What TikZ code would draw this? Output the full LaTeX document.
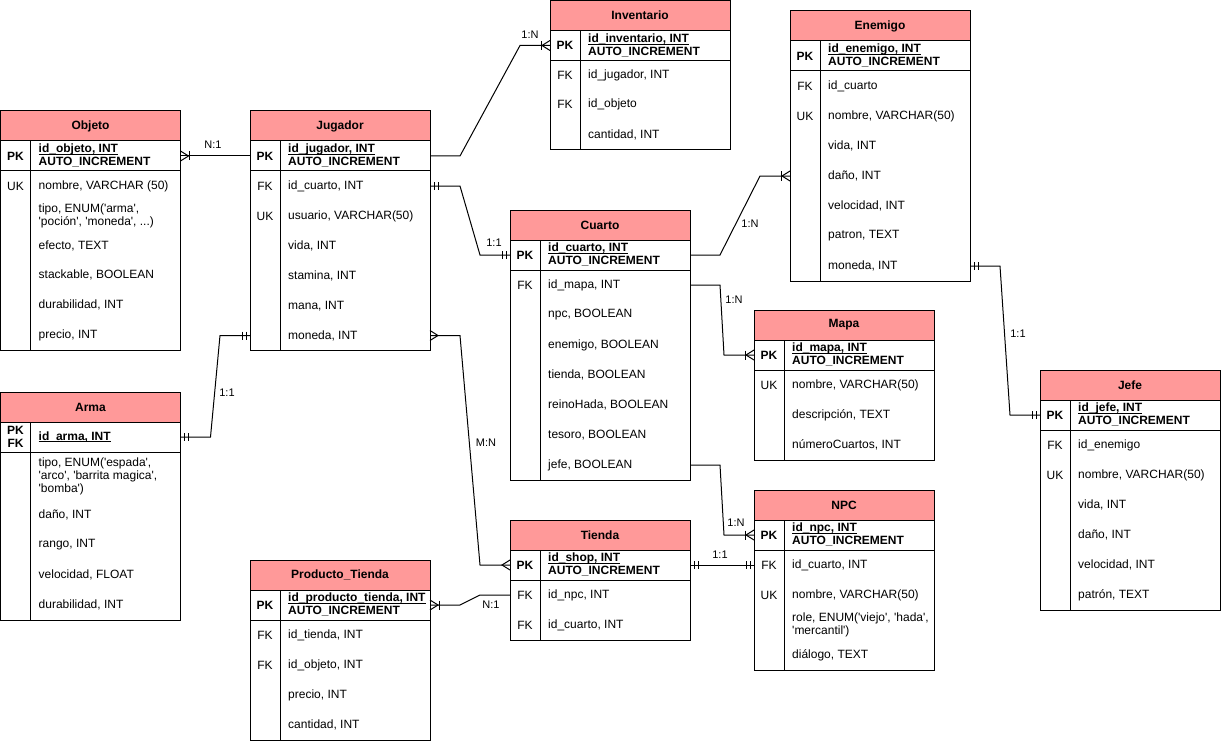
\documentclass[tikz,border=0pt]{standalone}
\usepackage{fontspec}
\setmainfont{Liberation Sans}
\usetikzlibrary{calc}
\definecolor{erpink}{HTML}{FF9999}
\newcommand\sq{\textquotesingle}
\newcommand\keyul[1]{\underline{\smash{#1}\vphantom{I}}}
\tikzset{
 tbl/.style={line width=1pt},
 titlebox/.style={draw=black, line width=1pt, fill=erpink, minimum width=180pt, minimum height=30pt, inner sep=0pt, outer sep=0pt, anchor=north west, font=\bfseries\fontsize{12}{13}\selectfont},
 pkbox/.style={draw=black, line width=1pt, minimum width=180pt, minimum height=30pt, inner sep=0pt, outer sep=0pt, anchor=north west},
 rowbox/.style={minimum width=180pt, inner sep=0pt, outer sep=0pt, anchor=north west},
 keytxt/.style={inner sep=0pt, align=center, font=\fontsize{12}{13}\selectfont},
 keybold/.style={inner sep=0pt, align=center, font=\bfseries\fontsize{12}{13}\selectfont},
 fldtxt/.style={inner sep=0pt, align=left, anchor=west, font=\fontsize{12}{13}\selectfont},
 fldbold/.style={inner sep=0pt, align=left, anchor=west, font=\bfseries\fontsize{12}{13}\selectfont},
 conn/.style={line width=1pt},
 lbl/.style={inner sep=0pt, font=\fontsize{11}{12}\selectfont},
}
% name, x, y, title
\newcommand\ertitle[4]{\node[titlebox] (#1) at (#2,#3) {#4};}
% name, x, y, key, field
\newcommand\erpk[5]{%
 \node[pkbox] (#1) at (#2,#3) {};
 \node[keybold] (#1-k) at ($(#1.west)+(15,0)$) {#4};
 \node[fldbold] (#1-f) at ($(#1.west)+(38,0)$) {#5};}
% name, x, y, h, key, field
\newcommand\errow[6]{%
 \node[rowbox, minimum height=#4pt] (#1) at (#2,#3) {};
 \node[keytxt] (#1-k) at ($(#1.west)+(15,0)$) {#5};
 \node[fldtxt] (#1-f) at ($(#1.west)+(38,0)$) {#6};}
% title node, pk node, last row node
\newcommand\erframe[3]{%
 \draw[tbl] (#1.north west) rectangle (#3.south east);
 \draw[tbl] ($(#2.north west)+(30,0)$) -- ($(#3.south west)+(30,0)$);}
% markers: anchor, direction (+1 = line leaves to the right, -1 = to the left)
\newcommand\mandone[2]{%
 \draw[conn] ($(#1)+(#2*4,-4)$) -- ($(#1)+(#2*4,4)$);
 \draw[conn] ($(#1)+(#2*8,-4)$) -- ($(#1)+(#2*8,4)$);}
\newcommand\many[2]{%
 \draw[conn] ($(#1)+(0,-5)$) -- ($(#1)+(#2*8,0)$) -- ($(#1)+(0,5)$);}
\newcommand\onemany[2]{%
 \many{#1}{#2}%
 \draw[conn] ($(#1)+(#2*9,-4.5)$) -- ($(#1)+(#2*9,4.5)$);}
\begin{document}
\begin{tikzpicture}[x=1pt,y=-1pt]
\fill[white] (0,0) rectangle (1221,741);
\useasboundingbox (0,0) rectangle (1221,741);

% ---------- Objeto ----------
\ertitle{obj}{0.5}{111}{Objeto}
\erpk{obj-pk}{0.5}{141}{PK}{\keyul{id\_objeto, INT}\\AUTO\_INCREMENT}
\errow{obj-r1}{0.5}{171}{30}{UK}{nombre, VARCHAR (50)}
\errow{obj-r2}{0.5}{201}{30}{}{tipo, ENUM(\sq arma\sq,\\\sq poción\sq, \sq moneda\sq, ...)}
\errow{obj-r3}{0.5}{231}{29}{}{efecto, TEXT}
\errow{obj-r4}{0.5}{260}{30}{}{stackable, BOOLEAN}
\errow{obj-r5}{0.5}{290}{30}{}{durabilidad, INT}
\errow{obj-r6}{0.5}{320}{30}{}{precio, INT}
\erframe{obj}{obj-pk}{obj-r6}

% ---------- Jugador ----------
\ertitle{jug}{250}{111}{Jugador}
\erpk{jug-pk}{250}{141}{PK}{\keyul{id\_jugador, INT}\\AUTO\_INCREMENT}
\errow{jug-r1}{250}{171}{30}{FK}{id\_cuarto, INT}
\errow{jug-r2}{250}{201}{30}{UK}{usuario, VARCHAR(50)}
\errow{jug-r3}{250}{231}{30}{}{vida, INT}
\errow{jug-r4}{250}{261}{30}{}{stamina, INT}
\errow{jug-r5}{250}{291}{30}{}{mana, INT}
\errow{jug-r6}{250}{321}{29}{}{moneda, INT}
\erframe{jug}{jug-pk}{jug-r6}

% ---------- Inventario ----------
\ertitle{inv}{550}{0.5}{Inventario}
\erpk{inv-pk}{550}{30.5}{PK}{\keyul{id\_inventario, INT}\\AUTO\_INCREMENT}
\errow{inv-r1}{550}{60.5}{29}{FK}{id\_jugador, INT}
\errow{inv-r2}{550}{89.5}{30}{FK}{id\_objeto}
\errow{inv-r3}{550}{119.5}{30}{}{cantidad, INT}
\erframe{inv}{inv-pk}{inv-r3}

% ---------- Enemigo ----------
\ertitle{ene}{790}{11}{Enemigo}
\erpk{ene-pk}{790}{41}{PK}{\keyul{id\_enemigo, INT}\\AUTO\_INCREMENT}
\errow{ene-r1}{790}{71}{30}{FK}{id\_cuarto}
\errow{ene-r2}{790}{101}{30}{UK}{nombre, VARCHAR(50)}
\errow{ene-r3}{790}{131}{30}{}{vida, INT}
\errow{ene-r4}{790}{161}{30}{}{daño, INT}
\errow{ene-r5}{790}{191}{30}{}{velocidad, INT}
\errow{ene-r6}{790}{221}{30}{}{patron, TEXT}
\errow{ene-r7}{790}{251}{30}{}{moneda, INT}
\erframe{ene}{ene-pk}{ene-r7}

% ---------- Cuarto ----------
\ertitle{cua}{510}{210}{Cuarto}
\erpk{cua-pk}{510}{240}{PK}{\keyul{id\_cuarto, INT}\\AUTO\_INCREMENT}
\errow{cua-r1}{510}{270}{30}{FK}{id\_mapa, INT}
\errow{cua-r2}{510}{300}{30}{}{npc, BOOLEAN}
\errow{cua-r3}{510}{330}{30}{}{enemigo, BOOLEAN}
\errow{cua-r4}{510}{360}{30}{}{tienda, BOOLEAN}
\errow{cua-r5}{510}{390}{30}{}{reinoHada, BOOLEAN}
\errow{cua-r6}{510}{420}{30}{}{tesoro, BOOLEAN}
\errow{cua-r7}{510}{450}{30}{}{jefe, BOOLEAN}
\erframe{cua}{cua-pk}{cua-r7}

% ---------- Mapa ----------
\ertitle{map}{754}{310}{Mapa}
\erpk{map-pk}{754}{340}{PK}{\keyul{id\_mapa, INT}\\AUTO\_INCREMENT}
\errow{map-r1}{754}{370}{30}{UK}{nombre, VARCHAR(50)}
\errow{map-r2}{754}{400}{30}{}{descripción, TEXT}
\errow{map-r3}{754}{430}{30}{}{númeroCuartos, INT}
\erframe{map}{map-pk}{map-r3}

% ---------- Jefe ----------
\ertitle{jefe}{1040}{370}{Jefe}
\erpk{jefe-pk}{1040}{400}{PK}{\keyul{id\_jefe, INT}\\AUTO\_INCREMENT}
\errow{jefe-r1}{1040}{430}{30}{FK}{id\_enemigo}
\errow{jefe-r2}{1040}{460}{30}{UK}{nombre, VARCHAR(50)}
\errow{jefe-r3}{1040}{490}{30}{}{vida, INT}
\errow{jefe-r4}{1040}{520}{30}{}{daño, INT}
\errow{jefe-r5}{1040}{550}{30}{}{velocidad, INT}
\errow{jefe-r6}{1040}{580}{30}{}{patrón, TEXT}
\erframe{jefe}{jefe-pk}{jefe-r6}

% ---------- Arma ----------
\ertitle{arma}{0.5}{392}{Arma}
\erpk{arma-pk}{0.5}{422}{PK\\FK}{\keyul{id\_arma, INT}}
\errow{arma-r1}{0.5}{452}{48}{}{tipo, ENUM(\sq espada\sq,\\\sq arco\sq, \sq barrita magica\sq,\\\sq bomba\sq)}
\errow{arma-r2}{0.5}{500}{30}{}{daño, INT}
\errow{arma-r3}{0.5}{530}{30}{}{rango, INT}
\errow{arma-r4}{0.5}{560}{30}{}{velocidad, FLOAT}
\errow{arma-r5}{0.5}{590}{30}{}{durabilidad, INT}
\erframe{arma}{arma-pk}{arma-r5}

% ---------- Producto_Tienda ----------
\ertitle{pt}{250}{560}{Producto\_Tienda}
\erpk{pt-pk}{250}{590}{PK}{\keyul{id\_producto\_tienda, INT}\\AUTO\_INCREMENT}
\errow{pt-r1}{250}{620}{30}{FK}{id\_tienda, INT}
\errow{pt-r2}{250}{650}{30}{FK}{id\_objeto, INT}
\errow{pt-r3}{250}{680}{30}{}{precio, INT}
\errow{pt-r4}{250}{710}{30}{}{cantidad, INT}
\erframe{pt}{pt-pk}{pt-r4}

% ---------- Tienda ----------
\ertitle{tie}{510}{520}{Tienda}
\erpk{tie-pk}{510}{550}{PK}{\keyul{id\_shop, INT}\\AUTO\_INCREMENT}
\errow{tie-r1}{510}{580}{30}{FK}{id\_npc, INT}
\errow{tie-r2}{510}{610}{30}{FK}{id\_cuarto, INT}
\erframe{tie}{tie-pk}{tie-r2}

% ---------- NPC ----------
\ertitle{npc}{754}{490}{NPC}
\erpk{npc-pk}{754}{520}{PK}{\keyul{id\_npc, INT}\\AUTO\_INCREMENT}
\errow{npc-r1}{754}{550}{30}{FK}{id\_cuarto, INT}
\errow{npc-r2}{754}{580}{30}{UK}{nombre, VARCHAR(50)}
\errow{npc-r3}{754}{610}{30}{}{role, ENUM(\sq viejo\sq, \sq hada\sq,\\\sq mercantil\sq)}
\errow{npc-r4}{754}{640}{30}{}{diálogo, TEXT}
\erframe{npc}{npc-pk}{npc-r4}

% ---------- Connectors ----------
% Objeto - Jugador
\draw[conn] (obj-pk.east) -- (jug-pk.west);
\onemany{obj-pk.east}{1}
\node[lbl] (l-objjug) at (213,145) {N:1};

% Jugador - Inventario
\draw[conn] (jug-pk.east) -- ++(30,0) -- ($(inv-pk.west)+(-30,0)$) -- (inv-pk.west);
\onemany{inv-pk.west}{-1}
\node[lbl] (l-juginv) at (530,35) {1:N};

% Jugador - Cuarto
\draw[conn] (jug-r1.east) -- ++(30,0) -- ($(cua-pk.west)+(-30,0)$) -- (cua-pk.west);
\mandone{jug-r1.east}{1}
\mandone{cua-pk.west}{-1}
\node[lbl] (l-jugcua) at (494,243) {1:1};

% Cuarto - Enemigo
\draw[conn] (cua-pk.east) -- ++(30,0) -- ($(ene-r4.west)+(-30,0)$) -- (ene-r4.west);
\onemany{ene-r4.west}{-1}
\node[lbl] (l-cuaene) at (750,224) {1:N};

% Cuarto - Mapa
\draw[conn] (cua-r1.east) -- ++(30,0) -- ($(map-pk.west)+(-30,0)$) -- (map-pk.west);
\onemany{map-pk.west}{-1}
\node[lbl] (l-cuamap) at (734,300) {1:N};

% Enemigo - Jefe
\draw[conn] (ene-r7.east) -- ++(30,0) -- ($(jefe-pk.west)+(-30,0)$) -- (jefe-pk.west);
\mandone{ene-r7.east}{1}
\mandone{jefe-pk.west}{-1}
\node[lbl] (l-enejefe) at (1018,334) {1:1};

% Jugador - Arma
\draw[conn] (jug-r6.west) -- ++(-30,0) -- ($(arma-pk.east)+(30,0)$) -- (arma-pk.east);
\mandone{jug-r6.west}{-1}
\mandone{arma-pk.east}{1}
\node[lbl] (l-jugarma) at (227,393) {1:1};

% Jugador - Tienda
\draw[conn] (jug-r6.east) -- ++(30,0) -- ($(tie-pk.west)+(-30,0)$) -- (tie-pk.west);
\many{jug-r6.east}{1}
\many{tie-pk.west}{-1}
\node[lbl] (l-jugtie) at (486,443) {M:N};

% Tienda - Producto_Tienda
\draw[conn] (tie-r1.west) -- ++(-30,0) -- ($(pt-pk.east)+(30,0)$) -- (pt-pk.east);
\onemany{pt-pk.east}{1}
\node[lbl] (l-tiept) at (491,605) {N:1};

% Cuarto - NPC
\draw[conn] (cua-r7.east) -- ++(30,0) -- ($(npc-pk.west)+(-30,0)$) -- (npc-pk.west);
\onemany{npc-pk.west}{-1}
\node[lbl] (l-cuanpc) at (736,523) {1:N};

% Tienda - NPC
\draw[conn] (tie-pk.east) -- (npc-r1.west);
\mandone{tie-pk.east}{1}
\mandone{npc-r1.west}{-1}
\node[lbl] (l-tienpc) at (720,555) {1:1};
\end{tikzpicture}
\end{document}
